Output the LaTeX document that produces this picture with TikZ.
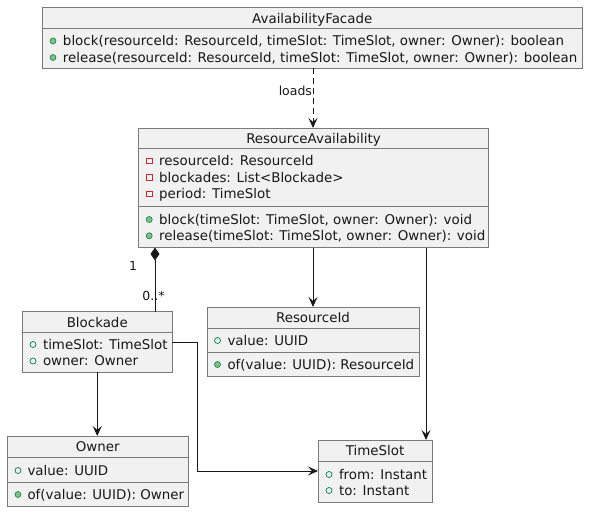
\documentclass[tikz,border=0pt]{standalone}
\usepackage{fontspec}
\setmainfont{DejaVu Sans}
\usetikzlibrary{arrows.meta}
\definecolor{boxfill}{HTML}{F1F1F1}
\definecolor{boxline}{HTML}{7A7A7A}
\definecolor{pubgreen}{HTML}{038048}
\definecolor{pubfill}{HTML}{84BE84}
\definecolor{privred}{HTML}{C82930}
\definecolor{inkc}{HTML}{181818}
\begin{document}
\begin{tikzpicture}[x=1pt,y=-1pt,
  umlbox/.style={draw=boxline, fill=boxfill, line width=0.8pt, inner sep=0pt, outer sep=0pt, anchor=north west},
  sepline/.style={draw=boxline, line width=0.8pt},
  txt/.style={inner sep=0pt, outer sep=0pt, text=inkc, font=\fontsize{13.4}{16}\selectfont},
  ttl/.style={txt, anchor=base},
  mem/.style={txt, anchor=base west},
  lbl/.style={inner sep=0pt, outer sep=0pt, text=inkc, font=\fontsize{12.5}{15}\selectfont},
  pubm/.style={circle, draw=pubgreen, fill=pubfill, line width=0.6pt, minimum size=6pt, inner sep=0pt},
  pubf/.style={circle, draw=pubgreen, fill=none, line width=0.7pt, minimum size=6pt, inner sep=0pt},
  privf/.style={rectangle, draw=privred, fill=none, line width=0.7pt, minimum size=5.5pt, inner sep=0pt},
  conn/.style={draw=inkc, line width=0.9pt},
  arr/.style={conn, -{Stealth[length=10pt,width=9pt,inset=4pt]}},
]
\useasboundingbox (0,0) rectangle (590,512);

% ---------- AvailabilityFacade ----------
\node[umlbox, minimum width=539.5pt, minimum height=61pt] (fac) at (42.5,7.3) {};
\draw[sepline] (fac.west |- 0,28.3) -- (fac.east |- 0,28.3);
\node[ttl] (facT) at (fac.north |- 0,23) {AvailabilityFacade};
\node[pubm] (facI1) at (53,41) {};
\node[mem] (facM1) at (63,45.5) {block(resourceId: ResourceId, timeSlot: TimeSlot, owner: Owner): boolean};
\node[pubm] (facI2) at (53,57.5) {};
\node[mem] (facM2) at (63,62) {release(resourceId: ResourceId, timeSlot: TimeSlot, owner: Owner): boolean};

% ---------- ResourceAvailability ----------
\node[umlbox, minimum width=349.6pt, minimum height=119.5pt] (ra) at (138.7,128) {};
\draw[sepline] (ra.west |- 0,148) -- (ra.east |- 0,148);
\draw[sepline] (ra.west |- 0,206.7) -- (ra.east |- 0,206.7);
\node[ttl] (raT) at (ra.north |- 0,143.7) {ResourceAvailability};
\node[privf] (raI1) at (149.2,161) {};
\node[mem] (raF1) at (159.2,165.5) {resourceId: ResourceId};
\node[privf] (raI2) at (149.2,177.5) {};
\node[mem] (raF2) at (159.2,182) {blockades: List<Blockade>};
\node[privf] (raI3) at (149.2,194) {};
\node[mem] (raF3) at (159.2,198.5) {period: TimeSlot};
\node[pubm] (raI4) at (149.2,219.5) {};
\node[mem] (raM1) at (159.2,224) {block(timeSlot: TimeSlot, owner: Owner): void};
\node[pubm] (raI5) at (149.2,235.8) {};
\node[mem] (raM2) at (159.2,240.3) {release(timeSlot: TimeSlot, owner: Owner): void};

% ---------- Blockade ----------
\node[umlbox, minimum width=149.5pt, minimum height=60.5pt] (blk) at (22.5,311.7) {};
\draw[sepline] (blk.west |- 0,332.5) -- (blk.east |- 0,332.5);
\node[ttl] (blkT) at (blk.north |- 0,327.4) {Blockade};
\node[pubf] (blkI1) at (33,344.5) {};
\node[mem] (blkF1) at (43,349) {timeSlot: TimeSlot};
\node[pubf] (blkI2) at (33,361) {};
\node[mem] (blkF2) at (43,365.5) {owner: Owner};

% ---------- ResourceId ----------
\node[umlbox, minimum width=212pt, minimum height=69pt] (rid) at (207,307) {};
\draw[sepline] (rid.west |- 0,328) -- (rid.east |- 0,328);
\draw[sepline] (rid.west |- 0,352.3) -- (rid.east |- 0,352.3);
\node[ttl] (ridT) at (rid.north |- 0,322.7) {ResourceId};
\node[pubf] (ridI1) at (217.5,340.5) {};
\node[mem] (ridF1) at (227.5,345) {value: UUID};
\node[pubm] (ridI2) at (217.5,364.5) {};
\node[mem] (ridM1) at (227.5,369) {of(value: UUID): ResourceId};

% ---------- Owner ----------
\node[umlbox, minimum width=180.5pt, minimum height=70pt] (own) at (7.5,436) {};
\draw[sepline] (own.west |- 0,457) -- (own.east |- 0,457);
\draw[sepline] (own.west |- 0,482) -- (own.east |- 0,482);
\node[ttl] (ownT) at (own.north |- 0,451.7) {Owner};
\node[pubf] (ownI1) at (18,470.5) {};
\node[mem] (ownF1) at (27.5,475) {value: UUID};
\node[pubm] (ownI2) at (18,494.5) {};
\node[mem] (ownM1) at (27.5,499) {of(value: UUID): Owner};

% ---------- TimeSlot ----------
\node[umlbox, minimum width=114pt, minimum height=62pt] (ts) at (318,440) {};
\draw[sepline] (ts.west |- 0,461.5) -- (ts.east |- 0,461.5);
\node[ttl] (tsT) at (ts.north |- 0,455.7) {TimeSlot};
\node[pubf] (tsI1) at (329,474.5) {};
\node[mem] (tsF1) at (339,479) {from: Instant};
\node[pubf] (tsI2) at (329,490.5) {};
\node[mem] (tsF2) at (339,495) {to: Instant};

% ---------- connectors ----------
\coordinate (loadx) at (313,0);
\coordinate (compx) at (155,0);
\coordinate (tsx) at (426,0);
\coordinate (bend) at (197,0);

\draw[arr, dash pattern=on 6pt off 4pt] (fac.south -| loadx) -- (ra.north -| loadx)
  node[lbl, pos=0.38, anchor=base east, xshift=-1pt, yshift=-4.5pt] (loadsL) {loads};

\draw[conn, {Diamond[length=13pt,width=9pt,fill=inkc]}-] (ra.south -| compx) -- (blk.north -| compx);
\node[lbl, anchor=base] (mult1) at (133,270) {1};
\node[lbl, anchor=base] (mult2) at (153.5,300) {0..*};

\draw[arr] (ra.south -| rid.north) -- (rid.north);
\draw[arr] (ra.south -| tsx) -- (ts.north -| tsx);
\draw[arr] (blk.south) -- (blk.south |- own.north);
\draw[arr] (blk.east) -- (blk.east -| bend) |- (ts.west);
\end{tikzpicture}
\end{document}
